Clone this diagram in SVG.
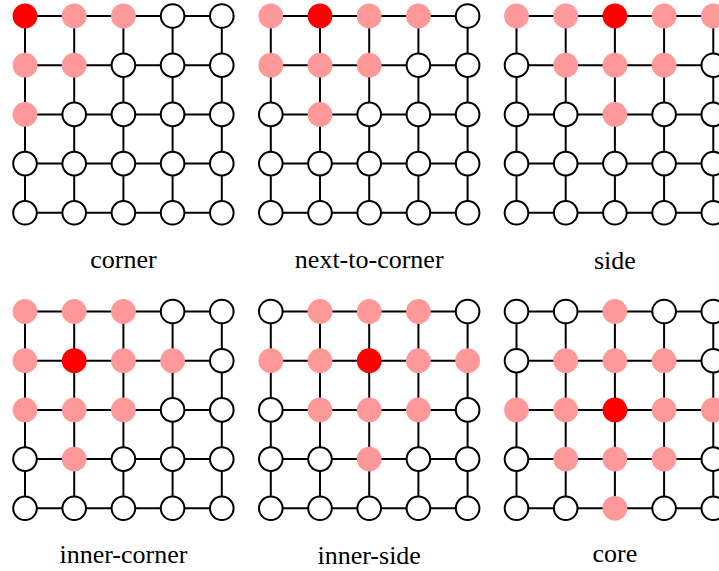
<svg xmlns="http://www.w3.org/2000/svg" width="719" height="571" viewBox="0 0 719 571">
<style>
.grid{fill:none;stroke:#000;stroke-width:2}
.w{fill:#fff;stroke:#000;stroke-width:2}
.p{fill:#ff9999;stroke:none}
.r{fill:#ff0000;stroke:none}
.lbl{font-family:"Liberation Serif","Times New Roman",serif;font-size:26px;fill:#000;text-anchor:middle}
</style>
<defs>
<path id="gridpath" d="M0 0H196.8M0 49.2H196.8M0 98.4H196.8M0 147.6H196.8M0 196.8H196.8M0 0V196.8M49.2 0V196.8M98.4 0V196.8M147.6 0V196.8M196.8 0V196.8"/>
</defs>
<rect width="719" height="571" fill="#fff"/>
<g id="connectors">
<use href="#gridpath" class="grid" transform="translate(25,16)"/>
<use href="#gridpath" class="grid" transform="translate(270.8,16)"/>
<use href="#gridpath" class="grid" transform="translate(516.5,16)"/>
<use href="#gridpath" class="grid" transform="translate(25,311.5)"/>
<use href="#gridpath" class="grid" transform="translate(270.8,311.5)"/>
<use href="#gridpath" class="grid" transform="translate(516.5,311.5)"/>
</g>
<g id="panel-corner" transform="translate(25,16)">
<g id="p1-r0c0"><circle class="r" cx="0" cy="0" r="12.4"/></g>
<g id="p1-r0c1"><circle class="p" cx="49.2" cy="0" r="12.4"/></g>
<g id="p1-r0c2"><circle class="p" cx="98.4" cy="0" r="12.4"/></g>
<g id="p1-r0c3"><circle class="w" cx="147.6" cy="0" r="11.8"/></g>
<g id="p1-r0c4"><circle class="w" cx="196.8" cy="0" r="11.8"/></g>
<g id="p1-r1c0"><circle class="p" cx="0" cy="49.2" r="12.4"/></g>
<g id="p1-r1c1"><circle class="p" cx="49.2" cy="49.2" r="12.4"/></g>
<g id="p1-r1c2"><circle class="w" cx="98.4" cy="49.2" r="11.8"/></g>
<g id="p1-r1c3"><circle class="w" cx="147.6" cy="49.2" r="11.8"/></g>
<g id="p1-r1c4"><circle class="w" cx="196.8" cy="49.2" r="11.8"/></g>
<g id="p1-r2c0"><circle class="p" cx="0" cy="98.4" r="12.4"/></g>
<g id="p1-r2c1"><circle class="w" cx="49.2" cy="98.4" r="11.8"/></g>
<g id="p1-r2c2"><circle class="w" cx="98.4" cy="98.4" r="11.8"/></g>
<g id="p1-r2c3"><circle class="w" cx="147.6" cy="98.4" r="11.8"/></g>
<g id="p1-r2c4"><circle class="w" cx="196.8" cy="98.4" r="11.8"/></g>
<g id="p1-r3c0"><circle class="w" cx="0" cy="147.6" r="11.8"/></g>
<g id="p1-r3c1"><circle class="w" cx="49.2" cy="147.6" r="11.8"/></g>
<g id="p1-r3c2"><circle class="w" cx="98.4" cy="147.6" r="11.8"/></g>
<g id="p1-r3c3"><circle class="w" cx="147.6" cy="147.6" r="11.8"/></g>
<g id="p1-r3c4"><circle class="w" cx="196.8" cy="147.6" r="11.8"/></g>
<g id="p1-r4c0"><circle class="w" cx="0" cy="196.8" r="11.8"/></g>
<g id="p1-r4c1"><circle class="w" cx="49.2" cy="196.8" r="11.8"/></g>
<g id="p1-r4c2"><circle class="w" cx="98.4" cy="196.8" r="11.8"/></g>
<g id="p1-r4c3"><circle class="w" cx="147.6" cy="196.8" r="11.8"/></g>
<g id="p1-r4c4"><circle class="w" cx="196.8" cy="196.8" r="11.8"/></g>
</g>
<g id="panel-next-to-corner" transform="translate(270.8,16)">
<g id="p2-r0c0"><circle class="p" cx="0" cy="0" r="12.4"/></g>
<g id="p2-r0c1"><circle class="r" cx="49.2" cy="0" r="12.4"/></g>
<g id="p2-r0c2"><circle class="p" cx="98.4" cy="0" r="12.4"/></g>
<g id="p2-r0c3"><circle class="p" cx="147.6" cy="0" r="12.4"/></g>
<g id="p2-r0c4"><circle class="w" cx="196.8" cy="0" r="11.8"/></g>
<g id="p2-r1c0"><circle class="p" cx="0" cy="49.2" r="12.4"/></g>
<g id="p2-r1c1"><circle class="p" cx="49.2" cy="49.2" r="12.4"/></g>
<g id="p2-r1c2"><circle class="p" cx="98.4" cy="49.2" r="12.4"/></g>
<g id="p2-r1c3"><circle class="w" cx="147.6" cy="49.2" r="11.8"/></g>
<g id="p2-r1c4"><circle class="w" cx="196.8" cy="49.2" r="11.8"/></g>
<g id="p2-r2c0"><circle class="w" cx="0" cy="98.4" r="11.8"/></g>
<g id="p2-r2c1"><circle class="p" cx="49.2" cy="98.4" r="12.4"/></g>
<g id="p2-r2c2"><circle class="w" cx="98.4" cy="98.4" r="11.8"/></g>
<g id="p2-r2c3"><circle class="w" cx="147.6" cy="98.4" r="11.8"/></g>
<g id="p2-r2c4"><circle class="w" cx="196.8" cy="98.4" r="11.8"/></g>
<g id="p2-r3c0"><circle class="w" cx="0" cy="147.6" r="11.8"/></g>
<g id="p2-r3c1"><circle class="w" cx="49.2" cy="147.6" r="11.8"/></g>
<g id="p2-r3c2"><circle class="w" cx="98.4" cy="147.6" r="11.8"/></g>
<g id="p2-r3c3"><circle class="w" cx="147.6" cy="147.6" r="11.8"/></g>
<g id="p2-r3c4"><circle class="w" cx="196.8" cy="147.6" r="11.8"/></g>
<g id="p2-r4c0"><circle class="w" cx="0" cy="196.8" r="11.8"/></g>
<g id="p2-r4c1"><circle class="w" cx="49.2" cy="196.8" r="11.8"/></g>
<g id="p2-r4c2"><circle class="w" cx="98.4" cy="196.8" r="11.8"/></g>
<g id="p2-r4c3"><circle class="w" cx="147.6" cy="196.8" r="11.8"/></g>
<g id="p2-r4c4"><circle class="w" cx="196.8" cy="196.8" r="11.8"/></g>
</g>
<g id="panel-side" transform="translate(516.5,16)">
<g id="p3-r0c0"><circle class="p" cx="0" cy="0" r="12.4"/></g>
<g id="p3-r0c1"><circle class="p" cx="49.2" cy="0" r="12.4"/></g>
<g id="p3-r0c2"><circle class="r" cx="98.4" cy="0" r="12.4"/></g>
<g id="p3-r0c3"><circle class="p" cx="147.6" cy="0" r="12.4"/></g>
<g id="p3-r0c4"><circle class="p" cx="196.8" cy="0" r="12.4"/></g>
<g id="p3-r1c0"><circle class="w" cx="0" cy="49.2" r="11.8"/></g>
<g id="p3-r1c1"><circle class="p" cx="49.2" cy="49.2" r="12.4"/></g>
<g id="p3-r1c2"><circle class="p" cx="98.4" cy="49.2" r="12.4"/></g>
<g id="p3-r1c3"><circle class="p" cx="147.6" cy="49.2" r="12.4"/></g>
<g id="p3-r1c4"><circle class="w" cx="196.8" cy="49.2" r="11.8"/></g>
<g id="p3-r2c0"><circle class="w" cx="0" cy="98.4" r="11.8"/></g>
<g id="p3-r2c1"><circle class="w" cx="49.2" cy="98.4" r="11.8"/></g>
<g id="p3-r2c2"><circle class="p" cx="98.4" cy="98.4" r="12.4"/></g>
<g id="p3-r2c3"><circle class="w" cx="147.6" cy="98.4" r="11.8"/></g>
<g id="p3-r2c4"><circle class="w" cx="196.8" cy="98.4" r="11.8"/></g>
<g id="p3-r3c0"><circle class="w" cx="0" cy="147.6" r="11.8"/></g>
<g id="p3-r3c1"><circle class="w" cx="49.2" cy="147.6" r="11.8"/></g>
<g id="p3-r3c2"><circle class="w" cx="98.4" cy="147.6" r="11.8"/></g>
<g id="p3-r3c3"><circle class="w" cx="147.6" cy="147.6" r="11.8"/></g>
<g id="p3-r3c4"><circle class="w" cx="196.8" cy="147.6" r="11.8"/></g>
<g id="p3-r4c0"><circle class="w" cx="0" cy="196.8" r="11.8"/></g>
<g id="p3-r4c1"><circle class="w" cx="49.2" cy="196.8" r="11.8"/></g>
<g id="p3-r4c2"><circle class="w" cx="98.4" cy="196.8" r="11.8"/></g>
<g id="p3-r4c3"><circle class="w" cx="147.6" cy="196.8" r="11.8"/></g>
<g id="p3-r4c4"><circle class="w" cx="196.8" cy="196.8" r="11.8"/></g>
</g>
<g id="panel-inner-corner" transform="translate(25,311.5)">
<g id="p4-r0c0"><circle class="p" cx="0" cy="0" r="12.4"/></g>
<g id="p4-r0c1"><circle class="p" cx="49.2" cy="0" r="12.4"/></g>
<g id="p4-r0c2"><circle class="p" cx="98.4" cy="0" r="12.4"/></g>
<g id="p4-r0c3"><circle class="w" cx="147.6" cy="0" r="11.8"/></g>
<g id="p4-r0c4"><circle class="w" cx="196.8" cy="0" r="11.8"/></g>
<g id="p4-r1c0"><circle class="p" cx="0" cy="49.2" r="12.4"/></g>
<g id="p4-r1c1"><circle class="r" cx="49.2" cy="49.2" r="12.4"/></g>
<g id="p4-r1c2"><circle class="p" cx="98.4" cy="49.2" r="12.4"/></g>
<g id="p4-r1c3"><circle class="p" cx="147.6" cy="49.2" r="12.4"/></g>
<g id="p4-r1c4"><circle class="w" cx="196.8" cy="49.2" r="11.8"/></g>
<g id="p4-r2c0"><circle class="p" cx="0" cy="98.4" r="12.4"/></g>
<g id="p4-r2c1"><circle class="p" cx="49.2" cy="98.4" r="12.4"/></g>
<g id="p4-r2c2"><circle class="p" cx="98.4" cy="98.4" r="12.4"/></g>
<g id="p4-r2c3"><circle class="w" cx="147.6" cy="98.4" r="11.8"/></g>
<g id="p4-r2c4"><circle class="w" cx="196.8" cy="98.4" r="11.8"/></g>
<g id="p4-r3c0"><circle class="w" cx="0" cy="147.6" r="11.8"/></g>
<g id="p4-r3c1"><circle class="p" cx="49.2" cy="147.6" r="12.4"/></g>
<g id="p4-r3c2"><circle class="w" cx="98.4" cy="147.6" r="11.8"/></g>
<g id="p4-r3c3"><circle class="w" cx="147.6" cy="147.6" r="11.8"/></g>
<g id="p4-r3c4"><circle class="w" cx="196.8" cy="147.6" r="11.8"/></g>
<g id="p4-r4c0"><circle class="w" cx="0" cy="196.8" r="11.8"/></g>
<g id="p4-r4c1"><circle class="w" cx="49.2" cy="196.8" r="11.8"/></g>
<g id="p4-r4c2"><circle class="w" cx="98.4" cy="196.8" r="11.8"/></g>
<g id="p4-r4c3"><circle class="w" cx="147.6" cy="196.8" r="11.8"/></g>
<g id="p4-r4c4"><circle class="w" cx="196.8" cy="196.8" r="11.8"/></g>
</g>
<g id="panel-inner-side" transform="translate(270.8,311.5)">
<g id="p5-r0c0"><circle class="w" cx="0" cy="0" r="11.8"/></g>
<g id="p5-r0c1"><circle class="p" cx="49.2" cy="0" r="12.4"/></g>
<g id="p5-r0c2"><circle class="p" cx="98.4" cy="0" r="12.4"/></g>
<g id="p5-r0c3"><circle class="p" cx="147.6" cy="0" r="12.4"/></g>
<g id="p5-r0c4"><circle class="w" cx="196.8" cy="0" r="11.8"/></g>
<g id="p5-r1c0"><circle class="p" cx="0" cy="49.2" r="12.4"/></g>
<g id="p5-r1c1"><circle class="p" cx="49.2" cy="49.2" r="12.4"/></g>
<g id="p5-r1c2"><circle class="r" cx="98.4" cy="49.2" r="12.4"/></g>
<g id="p5-r1c3"><circle class="p" cx="147.6" cy="49.2" r="12.4"/></g>
<g id="p5-r1c4"><circle class="p" cx="196.8" cy="49.2" r="12.4"/></g>
<g id="p5-r2c0"><circle class="w" cx="0" cy="98.4" r="11.8"/></g>
<g id="p5-r2c1"><circle class="p" cx="49.2" cy="98.4" r="12.4"/></g>
<g id="p5-r2c2"><circle class="p" cx="98.4" cy="98.4" r="12.4"/></g>
<g id="p5-r2c3"><circle class="p" cx="147.6" cy="98.4" r="12.4"/></g>
<g id="p5-r2c4"><circle class="w" cx="196.8" cy="98.4" r="11.8"/></g>
<g id="p5-r3c0"><circle class="w" cx="0" cy="147.6" r="11.8"/></g>
<g id="p5-r3c1"><circle class="w" cx="49.2" cy="147.6" r="11.8"/></g>
<g id="p5-r3c2"><circle class="p" cx="98.4" cy="147.6" r="12.4"/></g>
<g id="p5-r3c3"><circle class="w" cx="147.6" cy="147.6" r="11.8"/></g>
<g id="p5-r3c4"><circle class="w" cx="196.8" cy="147.6" r="11.8"/></g>
<g id="p5-r4c0"><circle class="w" cx="0" cy="196.8" r="11.8"/></g>
<g id="p5-r4c1"><circle class="w" cx="49.2" cy="196.8" r="11.8"/></g>
<g id="p5-r4c2"><circle class="w" cx="98.4" cy="196.8" r="11.8"/></g>
<g id="p5-r4c3"><circle class="w" cx="147.6" cy="196.8" r="11.8"/></g>
<g id="p5-r4c4"><circle class="w" cx="196.8" cy="196.8" r="11.8"/></g>
</g>
<g id="panel-core" transform="translate(516.5,311.5)">
<g id="p6-r0c0"><circle class="w" cx="0" cy="0" r="11.8"/></g>
<g id="p6-r0c1"><circle class="w" cx="49.2" cy="0" r="11.8"/></g>
<g id="p6-r0c2"><circle class="p" cx="98.4" cy="0" r="12.4"/></g>
<g id="p6-r0c3"><circle class="w" cx="147.6" cy="0" r="11.8"/></g>
<g id="p6-r0c4"><circle class="w" cx="196.8" cy="0" r="11.8"/></g>
<g id="p6-r1c0"><circle class="w" cx="0" cy="49.2" r="11.8"/></g>
<g id="p6-r1c1"><circle class="p" cx="49.2" cy="49.2" r="12.4"/></g>
<g id="p6-r1c2"><circle class="p" cx="98.4" cy="49.2" r="12.4"/></g>
<g id="p6-r1c3"><circle class="p" cx="147.6" cy="49.2" r="12.4"/></g>
<g id="p6-r1c4"><circle class="w" cx="196.8" cy="49.2" r="11.8"/></g>
<g id="p6-r2c0"><circle class="p" cx="0" cy="98.4" r="12.4"/></g>
<g id="p6-r2c1"><circle class="p" cx="49.2" cy="98.4" r="12.4"/></g>
<g id="p6-r2c2"><circle class="r" cx="98.4" cy="98.4" r="12.4"/></g>
<g id="p6-r2c3"><circle class="p" cx="147.6" cy="98.4" r="12.4"/></g>
<g id="p6-r2c4"><circle class="p" cx="196.8" cy="98.4" r="12.4"/></g>
<g id="p6-r3c0"><circle class="w" cx="0" cy="147.6" r="11.8"/></g>
<g id="p6-r3c1"><circle class="p" cx="49.2" cy="147.6" r="12.4"/></g>
<g id="p6-r3c2"><circle class="p" cx="98.4" cy="147.6" r="12.4"/></g>
<g id="p6-r3c3"><circle class="p" cx="147.6" cy="147.6" r="12.4"/></g>
<g id="p6-r3c4"><circle class="w" cx="196.8" cy="147.6" r="11.8"/></g>
<g id="p6-r4c0"><circle class="w" cx="0" cy="196.8" r="11.8"/></g>
<g id="p6-r4c1"><circle class="w" cx="49.2" cy="196.8" r="11.8"/></g>
<g id="p6-r4c2"><circle class="p" cx="98.4" cy="196.8" r="12.4"/></g>
<g id="p6-r4c3"><circle class="w" cx="147.6" cy="196.8" r="11.8"/></g>
<g id="p6-r4c4"><circle class="w" cx="196.8" cy="196.8" r="11.8"/></g>
</g>
<g id="labels">
<text class="lbl" x="123.4" y="267.5">corner</text>
<text class="lbl" x="369.2" y="268">next-to-corner</text>
<text class="lbl" x="614.9" y="269.3">side</text>
<text class="lbl" x="123.4" y="563.3">inner-corner</text>
<text class="lbl" x="369.2" y="564">inner-side</text>
<text class="lbl" x="614.9" y="561.7">core</text>
</g>
</svg>
